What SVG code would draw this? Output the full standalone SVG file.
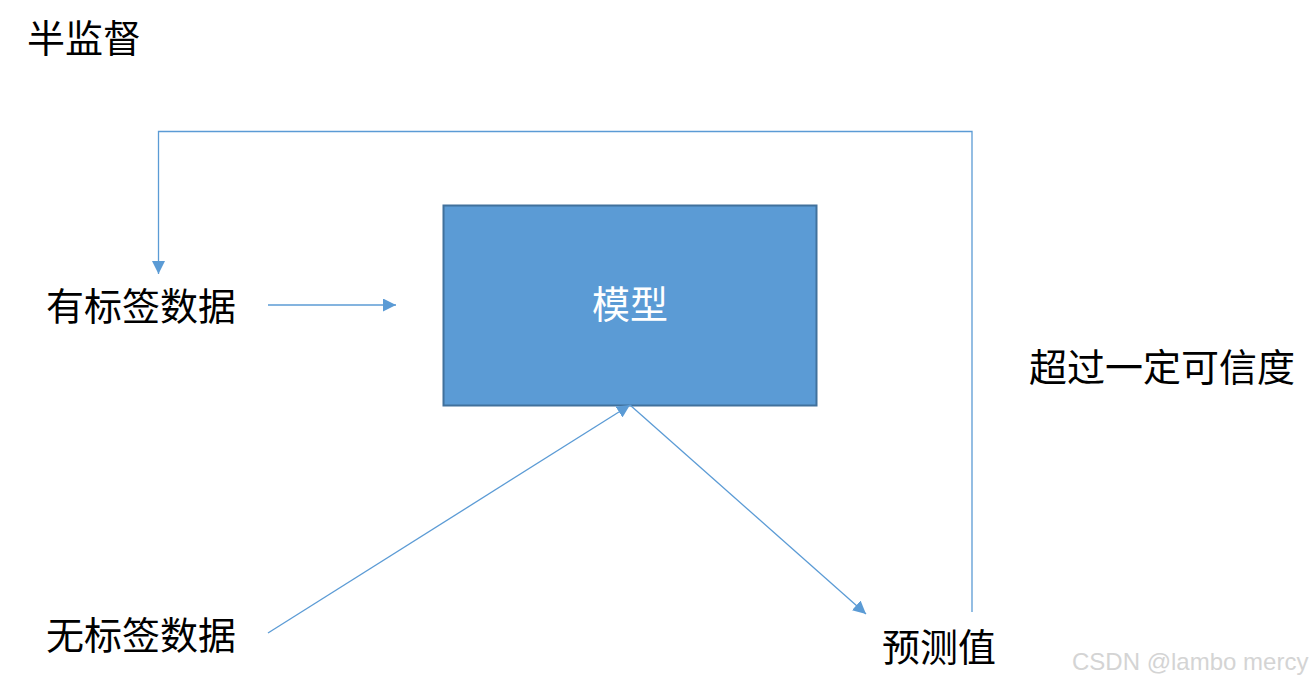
<svg xmlns="http://www.w3.org/2000/svg" width="1314" height="684" viewBox="0 0 1314 684">
<style>
.t{font-family:"Noto Sans CJK SC","Microsoft YaHei",sans-serif;fill:#000;font-size:38px}
.c{fill:none;stroke:#5B9BD5;stroke-width:1.3}
</style>
<defs>
<marker id="ah2" viewBox="0 0 10 10" refX="10" refY="5" markerWidth="13" markerHeight="13" markerUnits="userSpaceOnUse" orient="auto">
<path d="M0,0 L10,5 L0,10 Z" fill="#5B9BD5"/>
</marker>
</defs>
<rect width="1314" height="684" fill="#fff"/>
<text class="t" x="27" y="52" font-size="34">半监督</text>
<g id="model">
<rect x="443.5" y="205.5" width="373" height="200" fill="#5B9BD5" stroke="#41719C" stroke-width="2"/>
<text class="t" x="630" y="318" text-anchor="middle" style="fill:#fff">模型</text>
</g>
<g id="labeled"><text class="t" x="46" y="320">有标签数据</text></g>
<g id="unlabeled"><text class="t" x="46" y="649">无标签数据</text></g>
<g id="pred"><text class="t" x="882" y="661">预测值</text></g>
<g id="conf"><text class="t" x="1029" y="381">超过一定可信度</text></g>
<g id="connectors">
<path class="c" d="M972,612 V131.5 H158.5 V274" marker-end="url(#ah2)"/>
<path class="c" d="M268,305 H396" marker-end="url(#ah2)"/>
<path class="c" d="M268,633 L630,405" marker-end="url(#ah2)"/>
<path class="c" d="M630,405 L866,614" marker-end="url(#ah2)"/>
</g>
<text x="1072" y="670" font-family="Liberation Sans,Arial,sans-serif" font-size="24" fill="#d4d4d4">CSDN @lambo mercy</text>
</svg>
